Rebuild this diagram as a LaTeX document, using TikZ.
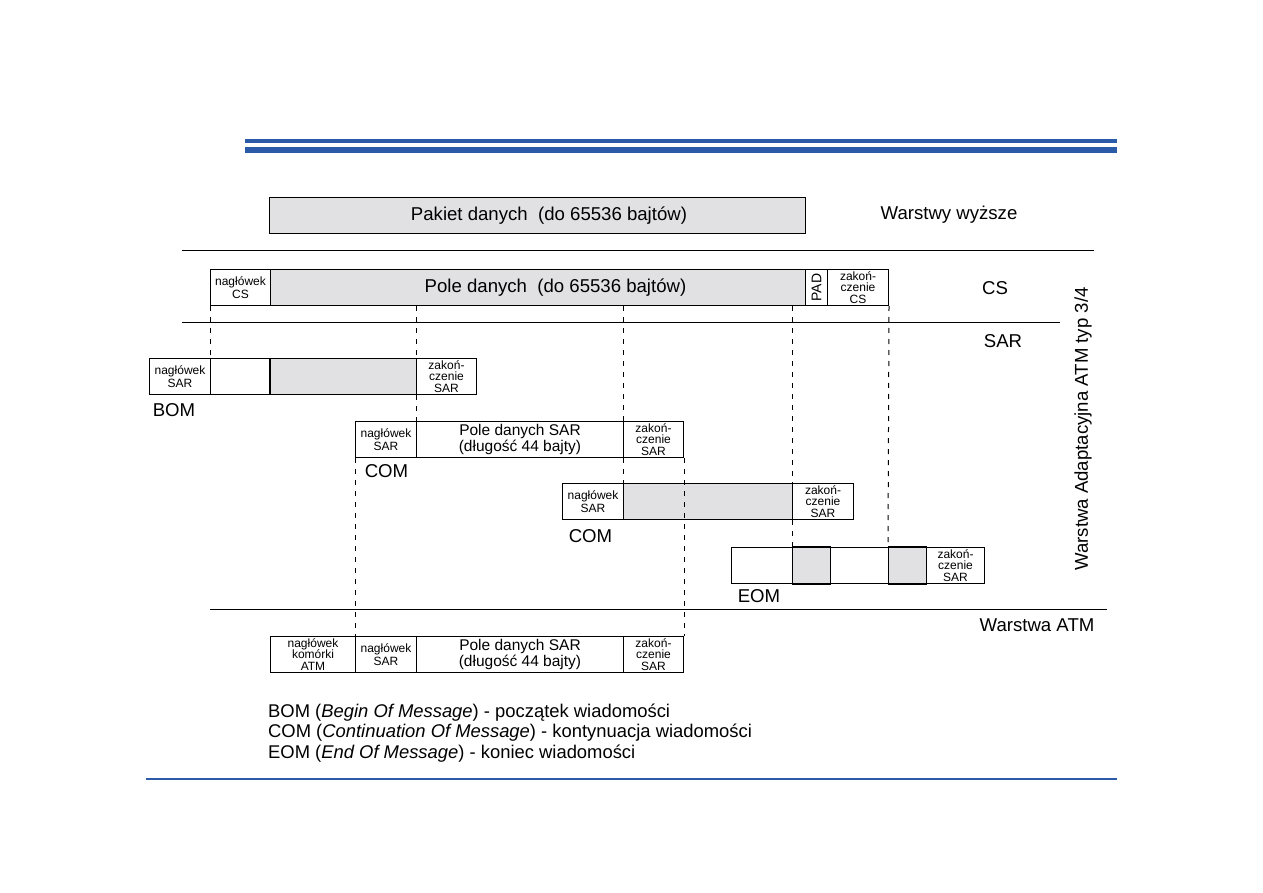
\documentclass[tikz,border=0pt]{standalone}
\usepackage{fontspec}
\setmainfont{Liberation Sans}
\usepackage{tikz}

\definecolor{boxgray}{RGB}{225,225,228}
\definecolor{barblue}{RGB}{42,91,168}

\newcommand{\smallfnt}{\fontsize{12}{11.5}\selectfont}
\newcommand{\midfnt}{\fontsize{15.5}{14}\selectfont}
\newcommand{\bigfnt}{\fontsize{18.6}{20}\selectfont}
\newcommand{\legfnt}{\fontsize{18.4}{20}\selectfont}

\begin{document}
\begin{tikzpicture}[x=1pt, y=-1pt,
        cell/.style={draw, line width=1pt, minimum height=36pt, inner sep=0pt, anchor=north west, align=center, font=\smallfnt},
        data/.style={cell, fill=boxgray},
        lbl/.style={font=\bigfnt, inner sep=0pt, anchor=base},
        dashcon/.style={line width=1pt, dash pattern=on 5pt off 6pt},
        rule/.style={line width=1pt},
        heavy/.style={line width=2pt}]
        \useasboundingbox (0,0) rectangle (1263,893);

        % Blue bars
        \fill[barblue] (245,139) rectangle (1117,143);
        \fill[barblue] (245,147) rectangle (1117,153);
        \fill[barblue] (146,778) rectangle (1117,780);

        % Layer rules
        \draw[rule] (182,251) -- (1094,251);
        \draw[rule] (182,322) -- (1060,322);
        \draw[rule] (210,609) -- (1107,609);

        % Upper layers
        \node[data, minimum width=536pt, font=\bigfnt] (pakiet) at (269,197) {\hspace*{23pt}Pakiet danych\ \ (do 65536 bajtów)};

        % CS
        \node[cell, minimum width=60pt] (cshdr) at (210,269) {nagłówek\\[1.5pt]CS};
        \node[data, minimum width=535pt, font=\bigfnt] (csdata) at (270,269) {\hspace*{35pt}Pole danych\ \ (do 65536 bajtów)};
        \node[cell, minimum width=22pt] (cspad) at (805,269) {};
        \node[rotate=90, font=\fontsize{14}{14}\selectfont, inner sep=0pt] (padtxt) at (cspad.center) {PAD};
        \node[cell, minimum width=61pt] (cstrl) at (827,269) {zakoń-\\czenie\\CS};

        % SAR - BOM
        \node[cell, minimum width=61pt] (bomhdr) at (149,358) {nagłówek\\[1.5pt]SAR};
        \node[cell, minimum width=60pt] (bomw) at (210,358) {};
        \node[data, minimum width=146pt] (bomdata) at (270,358) {};
        \node[cell, minimum width=60pt] (bomtrl) at (416,358) {zakoń-\\czenie\\SAR};
        \draw[heavy] (bomdata.north west) -- (bomdata.south west);

        % SAR - COM
        \node[cell, minimum width=61pt] (com1hdr) at (355,421) {nagłówek\\[1.5pt]SAR};
        \node[cell, minimum width=207pt, font=\midfnt] (com1data) at (416,421) {Pole danych SAR\\(długość 44 bajty)};
        \node[cell, minimum width=60pt] (com1trl) at (623,421) {zakoń-\\czenie\\SAR};

        % SAR - COM
        \node[cell, minimum width=61pt] (com2hdr) at (562,483) {nagłówek\\[1.5pt]SAR};
        \node[data, minimum width=169pt] (com2data) at (623,483) {};
        \node[cell, minimum width=61pt] (com2trl) at (792,483) {zakoń-\\czenie\\SAR};

        % SAR - EOM
        \node[cell, minimum width=61pt] (eomw1) at (731,547) {};
        \node[data, minimum width=38pt] (eomg1) at (792,547) {};
        \node[cell, minimum width=58pt] (eomw2) at (830,547) {};
        \node[data, minimum width=38pt] (eomg2) at (888,547) {};
        \node[cell, minimum width=58pt] (eomtrl) at (926,547) {zakoń-\\czenie\\SAR};
        \draw[heavy] (eomg1.north west) -- (eomg1.north east) (eomg1.south west) -- (eomg1.south east);
        \draw[heavy] (eomg2.north west) -- (eomg2.north east) (eomg2.south west) -- (eomg2.south east);

        % ATM cell
        \node[cell, minimum width=85pt] (atmhdr) at (270,636) {nagłówek\\komórki\\ATM};
        \node[cell, minimum width=61pt] (atmsar) at (355,636) {nagłówek\\[1.5pt]SAR};
        \node[cell, minimum width=207pt, font=\midfnt] (atmdata) at (416,636) {Pole danych SAR\\(długość 44 bajty)};
        \node[cell, minimum width=60pt] (atmtrl) at (623,636) {zakoń-\\czenie\\SAR};

        % Dashed guides
        \draw[dashcon] (cshdr.south west) -- (bomw.north west);
        \draw[dashcon] (bomtrl.north west |- csdata.south) -- (bomtrl.north west);
        \draw[dashcon] (bomtrl.south west) -- (com1data.north west);
        \draw[dashcon] (com1trl.north west |- csdata.south) -- (com1trl.north west);
        \draw[dashcon] (com1trl.south west) -- (com2data.north west);
        \draw[dashcon] (com2trl.north west |- csdata.south) -- (com2trl.north west);
        \draw[dashcon] (com2trl.south west) -- (eomg1.north west);
        \draw[dashcon] (cstrl.south east) -- (eomg2.north west);
        \draw[dashcon] (com1hdr.south west) -- (atmsar.north west);
        \draw[dashcon] (com1trl.south east) -- (atmtrl.north east);

        % Labels
        \node[lbl] (wyzsze) at (949,219.5) {Warstwy wyższe};
        \node[lbl] (cs) at (995,294.5) {CS};
        \node[lbl] (sar) at (1003,347) {SAR};
        \node[lbl] (bom) at (174,416) {BOM};
        \node[lbl] (com1) at (386.5,477) {COM};
        \node[lbl] (com2) at (590.5,542) {COM};
        \node[lbl] (eom) at (759,602) {EOM};
        \node[lbl] (atm) at (1037,631) {Warstwa ATM};
        \node[font=\bigfnt, rotate=90, inner sep=0pt] (aal) at (1083,429) {Warstwa Adaptacyjna ATM typ 3/4};

        % Legend
        \node[font=\legfnt, anchor=base west, inner sep=0pt] (leg1) at (268,717) {BOM (\textit{Begin Of Message}) - początek wiadomości};
        \node[font=\legfnt, anchor=base west, inner sep=0pt] (leg2) at (268,737.5) {COM (\textit{Continuation Of Message}) - kontynuacja wiadomości};
        \node[font=\legfnt, anchor=base west, inner sep=0pt] (leg3) at (268,758) {EOM (\textit{End Of Message}) - koniec wiadomości};
    \end{tikzpicture}
\end{document}
